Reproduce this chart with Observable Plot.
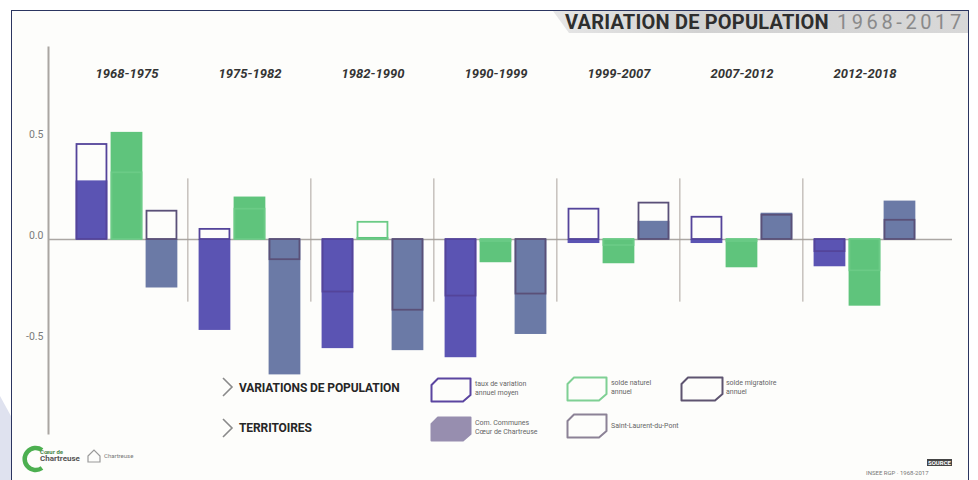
<!DOCTYPE html>
<html lang="fr">
<head>
<meta charset="utf-8">
<script src="https://cdn.jsdelivr.net/npm/d3@7"></script>
<script src="https://cdn.jsdelivr.net/npm/@observablehq/plot@0.6"></script>
<style>
  html, body { margin: 0; padding: 0; background: #ffffff; }
  body { font-family: Roboto, "Noto Sans", sans-serif; }
  #wrap { position: relative; width: 978px; height: 480px; overflow: hidden; background: #ffffff; }
  #corner { position: absolute; left: 0; top: 0; width: 978px; height: 480px;
    background: #dfe2ef; clip-path: polygon(0 396px, 46px 480px, 0 480px); }
  #frame { position: absolute; left: 11px; top: 10px; width: 958px; height: 480px;
    border: 1.5px solid #2b3560; box-sizing: border-box; background: #fdfdfb; }
  #tab { position: absolute; left: 553px; top: 11px; width: 415px; height: 22px;
    background: linear-gradient(90deg, #e6e6e6 0%, #d2d2d2 35%, #d8d8d8 100%);
    clip-path: polygon(0 0, 100% 0, 100% 100%, 16px 100%); }
  #title { position: absolute; left: 565px; top: 11px; height: 22px; line-height: 23px;
    white-space: nowrap; font-size: 20px; color: #2e2e2e; font-weight: 700; letter-spacing: 0.2px; }
  #title span { font-weight: 400; color: #8a8a8a; letter-spacing: 3.6px; margin-left: 8px; }
  #chart { position: absolute; left: 0; top: 0; width: 978px; }
  .lg { position: absolute; white-space: nowrap; }
  .head { font-size: 12px; font-weight: 700; color: #262626; letter-spacing: -0.1px; }
  .small { font-size: 7px; line-height: 8.5px; color: #666; }
  .tiny { font-size: 6px; color: #777; }
</style>
</head>
<body>
<div id="wrap">
  <div id="corner"></div>
  <div id="frame"></div>
  <div id="tab"></div>
  <div id="title">VARIATION DE POPULATION<span>1968-2017</span></div>
  <div id="chart"></div>

  <!-- legend -->
  <svg class="lg" style="left:221px;top:377px" width="14" height="20"><polyline points="2,1 11,10 2,19" fill="none" stroke="#8a8a8a" stroke-width="1.6"/></svg>
  <div class="lg head" style="left:239px;top:381px">VARIATIONS DE POPULATION</div>
  <svg class="lg" style="left:221px;top:418px" width="14" height="20"><polyline points="2,1 11,10 2,19" fill="none" stroke="#8a8a8a" stroke-width="1.6"/></svg>
  <div class="lg head" style="left:239px;top:421px">TERRITOIRES</div>

  <svg class="lg" style="left:430px;top:377px" width="42" height="26"><path d="M8,1.5 H40.5 V18 L33,24.5 H1.5 V8 Z" fill="#fdfdfb" stroke="#5b45a0" stroke-width="2" stroke-linejoin="round"/></svg>
  <div class="lg small" style="left:475px;top:380px">taux de variation<br>annuel moyen</div>

  <svg class="lg" style="left:566px;top:376px" width="42" height="26"><path d="M8,1.5 H40.5 V18 L33,24.5 H1.5 V8 Z" fill="#fdfdfb" stroke="#7fd094" stroke-width="2" stroke-linejoin="round"/></svg>
  <div class="lg small" style="left:611px;top:379px">solde naturel<br>annuel</div>

  <svg class="lg" style="left:680px;top:376px" width="44" height="26"><path d="M8,1.5 H42.5 V18 L35,24.5 H1.5 V8 Z" fill="#fdfdfb" stroke="#5e5470" stroke-width="2" stroke-linejoin="round"/></svg>
  <div class="lg small" style="left:726px;top:379px">solde migratoire<br>annuel</div>

  <svg class="lg" style="left:430px;top:416px" width="42" height="26"><path d="M8,1.5 H40.5 V18 L33,24.5 H1.5 V8 Z" fill="#978eaf" stroke="#978eaf" stroke-width="2" stroke-linejoin="round"/></svg>
  <div class="lg small" style="left:475px;top:419px">Com. Communes<br>Cœur de Chartreuse</div>

  <svg class="lg" style="left:566px;top:413px" width="42" height="26"><path d="M8,1.5 H40.5 V18 L33,24.5 H1.5 V8 Z" fill="#fdfdfb" stroke="#8c8296" stroke-width="2" stroke-linejoin="round"/></svg>
  <div class="lg small" style="left:611px;top:422px">Saint-Laurent-du-Pont</div>

  <!-- logos -->
  <svg class="lg" style="left:20px;top:444px" width="30" height="30"><path d="M22,6 A11,11 0 1 0 22,24" fill="none" stroke="#4caf50" stroke-width="4.5"/></svg>
  <div class="lg" style="left:40px;top:448px;font-size:6px;line-height:7px;color:#4d8a4d;font-weight:700">Cœur de<br><span style="color:#555;font-size:8px">Chartreuse</span></div>
  <svg class="lg" style="left:86px;top:448px" width="16" height="16"><path d="M2,8 L8,2 L14,8 V14 H2 Z" fill="none" stroke="#9a9a9a" stroke-width="1.2"/></svg>
  <div class="lg tiny" style="left:104px;top:452px">Chartreuse</div>
  <div class="lg" style="left:927px;top:459px;font-size:6px;font-weight:700;color:#fff;background:#444;padding:0 1px">SOURCE</div>
  <div class="lg tiny" style="left:866px;top:469px">INSEE RGP · 1968-2017</div>
</div>

<script>
// ---------- data ----------
const periods = ["1968-1975", "1975-1982", "1982-1990", "1990-1999", "1999-2007", "2007-2012", "2012-2018"];
// Communauté de communes (filled bars)
const ccTaux       = [0.29, -0.45, -0.54, -0.585, -0.02, -0.02, -0.135];
const ccNaturel    = [0.53,  0.21,  0.01, -0.115, -0.12, -0.14, -0.33];
const ccMigratoire = [-0.24, -0.67, -0.55, -0.47,  0.09,  0.13,  0.19];
// Commune (outlined bars)
const communeTaux       = [0.47,  0.05, -0.26, -0.28,  0.15,  0.11, -0.06];
const communeNaturel    = [0.33,  0.15,  0.085, -0.01, -0.03, -0.01, -0.155];
const communeMigratoire = [0.14, -0.10, -0.35, -0.27,  0.18,  0.12,  0.095];
const yTicks = [-0.5, 0, 0.5];

const table = periods.map((p, i) => ({
  period: p,
  ccTaux: ccTaux[i], ccNaturel: ccNaturel[i], ccMigratoire: ccMigratoire[i],
  communeTaux: communeTaux[i], communeNaturel: communeNaturel[i], communeMigratoire: communeMigratoire[i]
}));

// ---------- layout ----------
const x0 = 64.4, step = 123.25;
const L = 10.6, W = 32, G = 3;
const slot = k => ({insetLeft: L + k * (W + G), insetRight: step - (L + k * (W + G) + W)});
const oslot = k => { const s = slot(k); return {insetLeft: s.insetLeft + 0.9, insetRight: s.insetRight + 0.9}; };

const colors = {
  taux: "#5b54b3", tauxLine: "#54449a",
  nat: "#5fc47c", natLine: "#6bcb86",
  mig: "#6b7aa6", migLine: "#5a5078"
};

const chart = Plot.plot({
  width: 978,
  height: 440,
  marginTop: 47,
  marginBottom: 7,
  marginLeft: 48,
  marginRight: 26,
  style: {background: "transparent", fontFamily: "Roboto, 'Noto Sans', sans-serif"},
  x: {type: "band", domain: periods, range: [x0, x0 + 7 * step], padding: 0, axis: null},
  y: {domain: [-0.96, 0.95], axis: null},
  marks: [
    Plot.frame({anchor: "left", stroke: "#aaa6a2", strokeWidth: 2}),
    Plot.ruleY([0], {stroke: "#aba7a3", strokeWidth: 1.5}),
    // period separators
    Plot.barY(periods.slice(1), {x: d => d, y1: -0.31, y2: 0.30, fill: "#a89f99", insetLeft: -0.6, insetRight: step - 0.6}),
    // filled bars (communauté de communes)
    Plot.barY(table, {x: "period", y: "ccTaux", fill: colors.taux, ...slot(0)}),
    Plot.barY(table, {x: "period", y: "ccNaturel", fill: colors.nat, ...slot(1)}),
    Plot.barY(table, {x: "period", y: "ccMigratoire", fill: colors.mig, ...slot(2)}),
    // outlined bars (commune)
    Plot.barY(table, {x: "period", y: "communeTaux", fill: "none", stroke: colors.tauxLine, strokeWidth: 1.8, ...oslot(0)}),
    Plot.barY(table, {x: "period", y: "communeNaturel", fill: "none", stroke: colors.natLine, strokeWidth: 1.8, ...oslot(1)}),
    Plot.barY(table, {x: "period", y: "communeMigratoire", fill: "none", stroke: colors.migLine, strokeWidth: 1.8, ...oslot(2)}),
    // period labels
    Plot.text(periods, {x: d => d, frameAnchor: "top", dy: 21, text: d => d,
      fontSize: 13, fontWeight: "bold", fontStyle: "italic", fill: "#343434", letterSpacing: 0.5}),
    // y tick labels
    Plot.text(yTicks, {y: d => d, text: d => d.toFixed(1), frameAnchor: "left", dx: -5, dy: -4,
      textAnchor: "end", fontSize: 10.5, fill: "#7a7a7a"})
  ]
});
document.getElementById("chart").append(chart);
</script>
</body>
</html>
